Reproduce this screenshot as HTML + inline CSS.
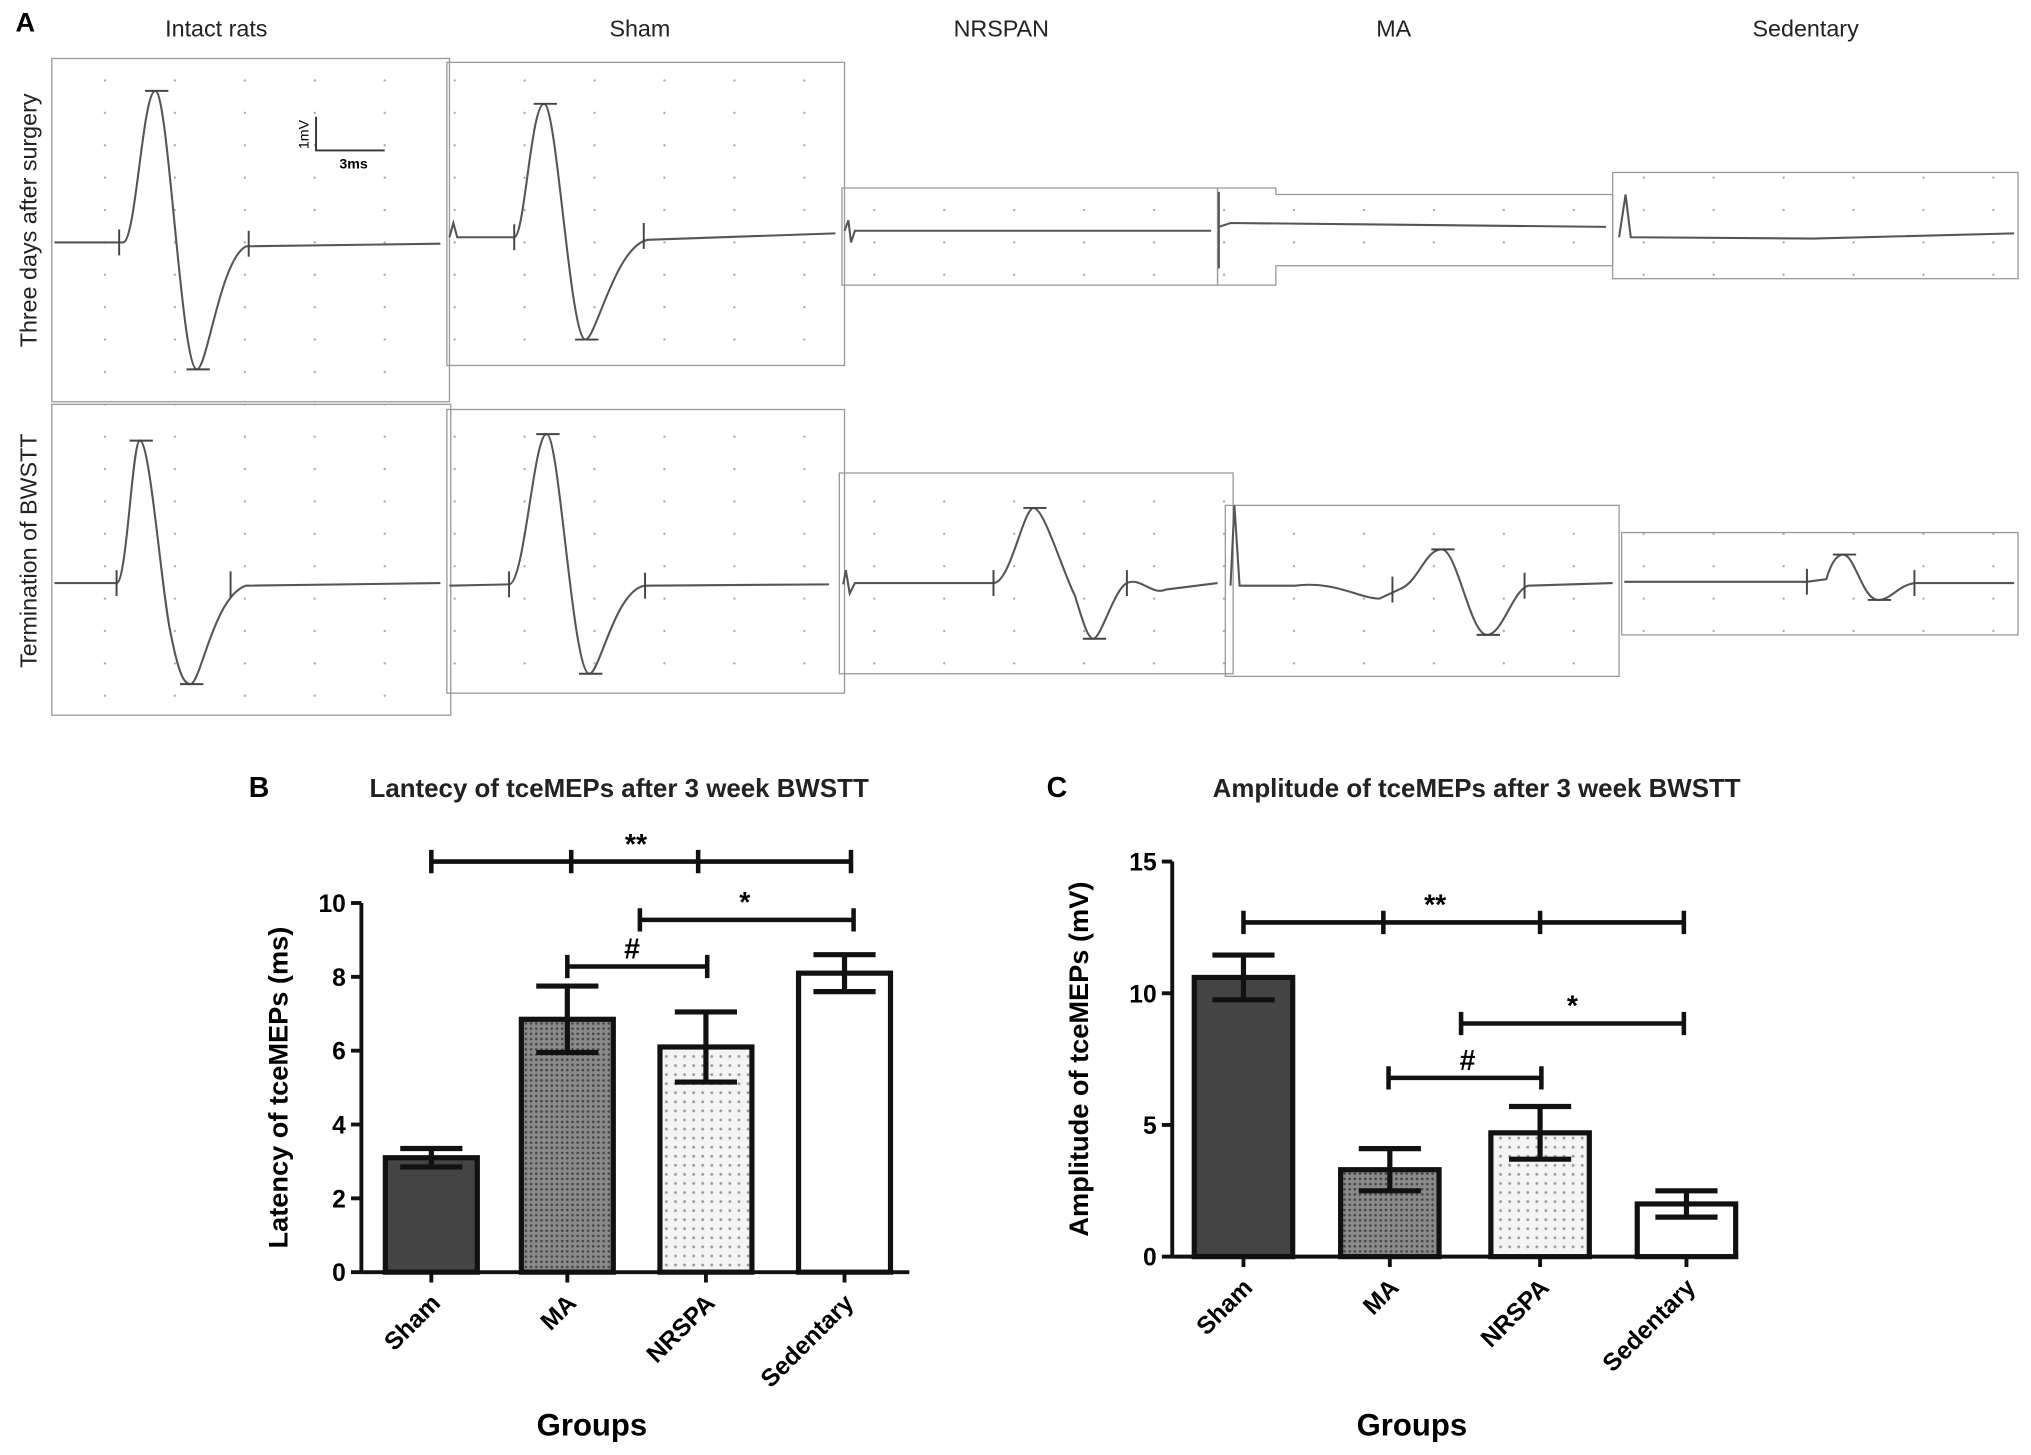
<!DOCTYPE html>
<html><head><meta charset="utf-8"><style>
html,body{margin:0;padding:0;background:#fff}
svg{display:block;font-family:"Liberation Sans",Arial,sans-serif}
</style></head><body>
<svg id="fig" width="2031" height="1455" viewBox="0 0 1568 1123">
<defs>
<pattern id="grid" width="54" height="25" patternUnits="userSpaceOnUse"><circle cx="27" cy="12" r="0.9" fill="#aaa"/></pattern>
<pattern id="maPat" width="4" height="4" patternUnits="userSpaceOnUse"><rect width="4" height="4" fill="#8a8a8a"/><circle cx="2" cy="2" r="1" fill="#444"/></pattern>
<pattern id="nrPat" width="7" height="7" patternUnits="userSpaceOnUse"><rect width="7" height="7" fill="#f4f4f4"/><circle cx="3.5" cy="3.5" r="1.1" fill="#999"/></pattern>
</defs>
<g id="panelA"></g>
<g id="panelB"></g>
<g id="panelC"></g>
</svg>
<script>
// Panel B data
const groups = ["Sham","MA","NRSPA","Sedentary"];
const latencyValues = [3.1, 6.85, 6.1, 8.1];
const latencyErrors = [0.25, 0.9, 0.95, 0.5];
const latencyTicks = [0,2,4,6,8,10];
// Panel C data
const amplitudeValues = [10.6, 3.3, 4.7, 2.0];
const amplitudeErrors = [0.85, 0.8, 1.0, 0.5];
const amplitudeTicks = [0,5,10,15];
const fills = ["#444","url(#maPat)","url(#nrPat)","#fff"];

const NS="http://www.w3.org/2000/svg";
function mk(tag,attrs,parent,text){const e=document.createElementNS(NS,tag);for(const k in attrs)e.setAttribute(k,attrs[k]);if(text!==undefined)e.textContent=text;parent.appendChild(e);return e;}

// ---------- Panel A ----------
const A=document.getElementById('panelA');
let t=mk('text',{x:12,y:24,'font-size':21,'font-weight':'bold'},A,'A');

const colTitles=[["Intact rats",167],["Sham",494],["NRSPAN",773],["MA",1076],["Sedentary",1394]];
colTitles.forEach(c=>{const e=mk('text',{x:c[1],y:28,'font-size':18,'text-anchor':'middle',fill:'#222'},A,c[0]);
});
[["Three days after surgery",170],["Termination of BWSTT",425]].forEach(r=>{const e=mk('text',{x:0,y:0,'font-size':18,'text-anchor':'middle',fill:'#222',transform:`translate(28,${r[1]}) rotate(-90)`},A,r[0]);
});
const boxes=[[40,45,307,265],[345,48,307,234],[650,145,290,75],[1245,133,313,82],
[40,312,308,240],[345,316,307,219],[648,365,304,155],[946,390,304,132],[1252,411,306,79]];
boxes.forEach(b=>{const e=mk('rect',{x:b[0],y:b[1],width:b[2],height:b[3],fill:'url(#grid)',stroke:'#999','stroke-width':1},A);
});
const maBox=mk('path',{d:'M940 145 H985 V150 H1245 V205 H985 V220 H940 Z',fill:'url(#grid)',stroke:'#999','stroke-width':1},A);

const traces=[
"M42 187 L95 187 C105 187 110 70 120 70 C130 70 140 285 152 285 C160 285 170 200 190 190 L340 188",
"M347 183 L350 172 L353 183 L397 183 C405 183 410 80 420 80 C430 80 440 262 452 262 C460 262 475 190 500 185 L645 180",
"M652 178 L655 170 L657 187 L660 178 L935 178",
"M941 148 L941 207 M941 175 L950 172 L1240 175",
"M1250 183 L1255 150 L1259 183 L1400 184 L1555 180",
"M42 450 L90 450 C98 450 102 340 108 340 C116 340 125 460 132 490 C138 520 142 528 147 528 C155 528 165 460 190 452 L340 450",
"M347 452 L393 451 C405 451 412 335 422 335 C432 335 442 520 455 520 C463 520 475 455 498 452 L640 451",
"M651 451 L653 440 L656 458 L660 450 L767 450 C780 450 790 392 798 392 C806 392 820 440 830 460 C836 480 840 493 844 493 C850 493 860 455 870 450 C880 445 890 460 900 455 L940 450",
"M950 452 L953 390 L957 452 L1000 452 C1030 448 1050 462 1065 462 L1080 455 C1095 450 1100 424 1113 424 C1125 424 1135 490 1148 490 C1160 490 1168 455 1180 452 L1245 450",
"M1254 449 L1395 449 L1410 447 C1415 430 1420 428 1423 428 C1432 428 1438 463 1450 463 C1460 463 1465 452 1478 450 L1555 450"];
traces.forEach(d=>{const e=mk('path',{d:d,fill:'none',stroke:'#555','stroke-width':1.6},A);
});
const caps=[[112,70],[144,285],[412,80],[444,262],[100,340],[139,528],[414,335],[447,520],[790,392],[836,493],[1105,424],[1140,490],[1415,428],[1442,463]];
caps.forEach(c=>{const e=mk('line',{x1:c[0],x2:c[0]+18,y1:c[1],y2:c[1],stroke:'#444','stroke-width':1.5},A);
});
const ticksA=[[92,187],[192,188],[397,183],[497,182],[90,450],[178,451],[393,451],[498,452],[767,450],[870,450],[1075,455],[1177,452],[1395,449],[1478,450]];
ticksA.forEach(c=>{const e=mk('line',{x1:c[0],x2:c[0],y1:c[1]-10,y2:c[1]+10,stroke:'#444','stroke-width':1.5},A);
});
const sb=mk('path',{d:'M244 90 V116 H297',fill:'none',stroke:'#333','stroke-width':1.5},A);

t=mk('text',{x:0,y:0,'font-size':11,transform:'translate(238,115) rotate(-90)'},A,'1mV');
t=mk('text',{x:262,y:130,'font-size':11,'font-weight':'bold'},A,'3ms');

// ---------- Bar chart builder ----------
function barChart(G,cfg,values,errors,ticks){
  const y=v=>cfg.y0-(v-ticks[0])/(ticks[ticks.length-1]-ticks[0])*(cfg.y0-cfg.yTop);
  let e=mk('text',{x:cfg.letterX,y:615,'font-size':22,'font-weight':'bold'},G,cfg.letter);
  
  e=mk('text',{x:cfg.titleX,y:615,'font-size':20,'font-weight':'bold','text-anchor':'middle',fill:'#222'},G,cfg.title);
  
  e=mk('line',{x1:cfg.x0,x2:cfg.x0,y1:cfg.yTop,y2:cfg.y0,stroke:'#111','stroke-width':3},G);
  
  e=mk('line',{x1:cfg.x0,x2:cfg.xEnd,y1:cfg.y0,y2:cfg.y0,stroke:'#111','stroke-width':3},G);
  
  ticks.forEach(v=>{
    const tk=mk('line',{x1:cfg.x0-8,x2:cfg.x0,y1:y(v),y2:y(v),stroke:'#111','stroke-width':3},G);
    
    const lb=mk('text',{x:cfg.x0-12,y:y(v)+7,'font-size':19,'font-weight':'bold','text-anchor':'end'},G,String(v));
    
  });
  values.forEach((v,i)=>{
    const cx=cfg.centers[i];
    const b=mk('rect',{x:cx-cfg.bw/2,y:y(v),width:cfg.bw,height:cfg.y0-y(v),fill:fills[i],stroke:'#111','stroke-width':4},G);
    
    const er=mk('path',{d:`M${cx} ${y(v+errors[i])} V${y(v-errors[i])} M${cx-24} ${y(v+errors[i])} H${cx+24} M${cx-24} ${y(v-errors[i])} H${cx+24}`,stroke:'#111','stroke-width':4,fill:'none'},G);
    
    const xt=mk('line',{x1:cx,x2:cx,y1:cfg.y0,y2:cfg.y0+8,stroke:'#111','stroke-width':3},G);
    
    const xl=mk('text',{x:0,y:0,'font-size':19,'font-weight':'bold','text-anchor':'end',transform:`translate(${cx+8},${cfg.y0+25}) rotate(-45)`},G,groups[i]);
    
  });
  e=mk('text',{x:0,y:0,'font-size':21,'font-weight':'bold','text-anchor':'middle',transform:`translate(${cfg.ylabX},${(cfg.y0+cfg.yTop)/2}) rotate(-90)`},G,cfg.ylabel);
  
  e=mk('text',{x:cfg.groupsX,y:1108,'font-size':24,'font-weight':'bold','text-anchor':'middle'},G,'Groups');
  
  cfg.sig.forEach(s=>{
    let d=`M${s.xs[0]} ${s.y} H${s.xs[s.xs.length-1]}`;
    s.xs.forEach(x=>{d+=` M${x} ${s.y-9} V${s.y+9}`;});
    const p=mk('path',{d:d,stroke:'#111','stroke-width':3.5,fill:'none'},G);
    
    const tx=mk('text',{x:s.tx,y:s.y-6,'font-size':22,'font-weight':'bold','text-anchor':'middle'},G,s.label);
    
  });
}
barChart(document.getElementById('panelB'),{letter:'B',letterX:192,title:'Lantecy of tceMEPs after 3 week BWSTT',titleX:478,
 x0:279,xEnd:702,y0:982,yTop:697,centers:[333,438,545,652],bw:71,ylabel:'Latency of tceMEPs (ms)',ylabX:222,groupsX:457,
 sig:[{xs:[333,441,539,657],y:665,label:'**',tx:491},{xs:[494,659],y:710,label:'*',tx:575},{xs:[438,546],y:746,label:'#',tx:488}]},
 latencyValues,latencyErrors,latencyTicks);
barChart(document.getElementById('panelC'),{letter:'C',letterX:808,title:'Amplitude of tceMEPs after 3 week BWSTT',titleX:1140,
 x0:905,xEnd:1342,y0:970,yTop:665,centers:[960,1073,1189,1302],bw:76,ylabel:'Amplitude of tceMEPs (mV)',ylabX:840,groupsX:1090,
 sig:[{xs:[960,1068,1189,1300],y:712,label:'**',tx:1108},{xs:[1128,1300],y:790,label:'*',tx:1214},{xs:[1072,1190],y:832,label:'#',tx:1133}]},
 amplitudeValues,amplitudeErrors,amplitudeTicks);
</script>
</body></html>
